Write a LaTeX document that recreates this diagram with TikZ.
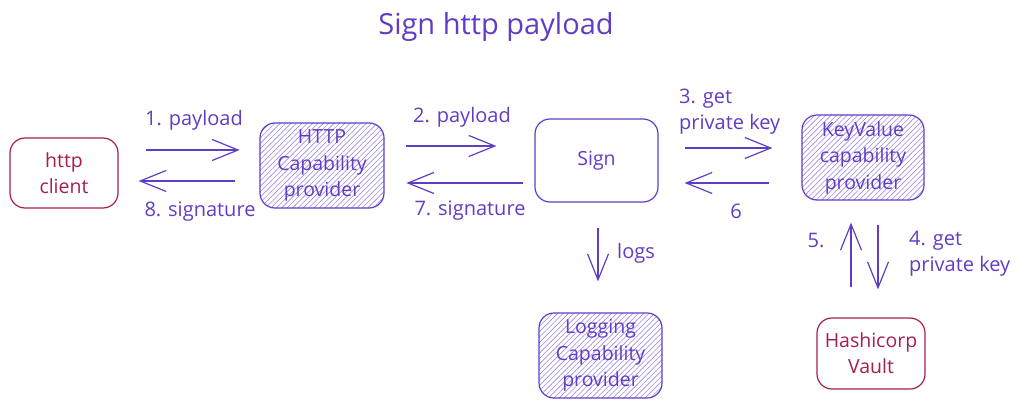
\documentclass[tikz,border=0pt]{standalone}
\usepackage{fontspec}
\setmainfont{Open Sans}
\usetikzlibrary{arrows.meta,patterns.meta,calc}
\definecolor{vio}{HTML}{5F3DC4}
\definecolor{hatch}{HTML}{7D62D8}
\definecolor{wine}{HTML}{A61E4D}
\tikzset{
  box/.style={draw=vio, line width=1.2pt, rounded corners=15pt, minimum width=#1, align=center, text=vio, font=\fontsize{19.5}{26.5}\selectfont, inner sep=1pt},
  redbox/.style={draw=wine, line width=1.2pt, rounded corners=15pt, align=center, text=wine, font=\fontsize{19.5}{26}\selectfont},
  hatched/.style={pattern={Lines[angle=45,distance=3.8pt,line width=0.6pt]}, pattern color=hatch!75},
  arr/.style={draw=vio, line width=1.2pt, -{Straight Barb[length=26pt,width=21pt,line width=1.2pt]}},
  lbl/.style={text=vio, font=\fontsize{20}{26}\selectfont, align=left, inner sep=0pt}
}
\begin{document}
\begin{tikzpicture}[x=1pt,y=-1pt]
\useasboundingbox (0,0) rectangle (1030,409);
\node[lbl, font=\fontsize{29}{32}\selectfont] (title) at (496,27) {Sign http payload};

\node[redbox, minimum width=108pt, minimum height=70pt] (client) at (64,173) {http\\client};
\node[box=124pt, minimum height=85pt, hatched] (http) at (322,165.5) {HTTP\\Capability\\provider};
\node[box=123pt, minimum height=83pt] (sign) at (596.5,160.5) {Sign};
\node[box=122pt, minimum height=85pt, hatched] (kv) at (863,157.5) {KeyValue\\capability\\provider};
\node[box=123pt, minimum height=85pt, hatched] (log) at (600.5,355.5) {Logging\\Capability\\provider};
\node[redbox, minimum width=108pt, minimum height=71pt] (vault) at (871,353.5) {Hashicorp\\Vault};

\draw[arr, shorten <=27pt, shorten >=20pt] (client.east |- 0,150) -- (http.west |- 0,150);
\draw[arr, shorten <=25pt, shorten >=20pt] (http.west |- 0,181) -- (client.east |- 0,181);
\draw[arr, shorten <=22pt, shorten >=38pt] (http.east |- 0,146) -- (sign.west |- 0,146);
\draw[arr, shorten <=11pt, shorten >=22pt] (sign.west |- 0,183) -- (http.east |- 0,183);
\draw[arr, shorten <=26pt, shorten >=29pt] (sign.east |- 0,148) -- (kv.west |- 0,148);
\draw[arr, shorten <=32pt, shorten >=26pt] (kv.west |- 0,183) -- (sign.east |- 0,183);
\draw[arr, shorten <=30pt, shorten >=22pt] (vault.north -| 851,0) -- (kv.south -| 851,0);
\draw[arr, shorten <=24pt, shorten >=28pt] (kv.south -| 878,0) -- (vault.north -| 878,0);
\draw[arr, shorten <=25pt, shorten >=31pt] (sign.south -| 598,0) -- (log.north -| 598,0);

\node[lbl] (l1) at (194,120) {1. payload};
\node[lbl] (l8) at (200,212) {8. signature};
\node[lbl] (l2) at (462,117) {2. payload};
\node[lbl] (l7) at (470,211) {7. signature};
\node[lbl, anchor=west] (l3) at (679,111.5) {3. get\\private key};
\node[lbl] (l6) at (736,211) {6};
\node[lbl] (l5) at (816,241) {5.};
\node[lbl, anchor=west] (l4) at (909,254) {4. get\\private key};
\node[lbl] (llogs) at (636,253) {logs};
\end{tikzpicture}
\end{document}
